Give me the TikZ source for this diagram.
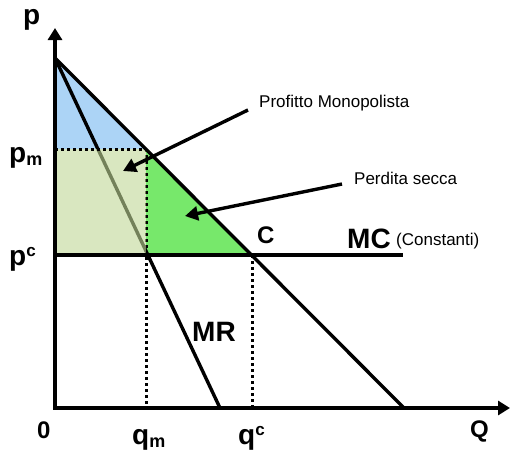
\documentclass[tikz,border=0pt]{standalone}
\usepackage{fontspec}
\setmainfont{Liberation Sans}
\usetikzlibrary{arrows.meta}
\definecolor{profitblue}{RGB}{172,212,246}
\definecolor{rectgreen}{RGB}{192,215,150}
\definecolor{losegreen}{RGB}{119,232,107}
\newcommand{\subtxt}[1]{\raisebox{-3pt}{\fontsize{18}{18}\selectfont #1}}
\newcommand{\suptxt}[1]{\raisebox{9pt}{\fontsize{17}{17}\selectfont #1}}
\tikzset{
  axis/.style={line width=3.5pt,line join=miter,{Triangle[length=12pt,width=14pt]}-{Triangle[length=12pt,width=14pt]}},
  curve/.style={line width=3.4pt},
  guide/.style={line width=3pt,dash pattern=on 3pt off 3pt},
  pointer/.style={line width=3.4pt,-{Triangle[length=13pt,width=14pt]}},
  biglbl/.style={anchor=base west,inner sep=0pt,font=\bfseries\fontsize{28}{28}\selectfont},
  midlbl/.style={anchor=base west,inner sep=0pt,font=\bfseries\fontsize{24}{24}\selectfont},
  note/.style={anchor=base west,inner sep=0pt,font=\fontsize{17}{17}\selectfont}
}

\begin{document}
\begin{tikzpicture}[x=1pt,y=-1pt]
\useasboundingbox (0,0) rectangle (512,451);
% points of the graph
\coordinate (O) at (55,408);
\coordinate (ytop) at (55,28);
\coordinate (xend) at (510,408);
\coordinate (A) at (55,58);
\coordinate (M) at (146,149);
\coordinate (pmax) at (55,149);
\coordinate (qmpc) at (146,255);
\coordinate (pcax) at (55,255);
\coordinate (C) at (252,255);
\coordinate (qmax) at (146,408);
\coordinate (qcax) at (252,408);
\coordinate (dend) at (404,408);
\coordinate (mrend) at (220,408);
\coordinate (mcend) at (403,255);

% areas
\fill[profitblue] (A) -- (M) -- (pmax) -- cycle;
\fill[losegreen] (M) -- (C) -- (qmpc) -- cycle;
\draw[curve] (A) -- (mrend);
\draw[guide] (M) -- (qmax);
\fill[rectgreen,fill opacity=0.6] (pmax) rectangle (qmpc);
\draw[guide] (pmax) -- (M);
\draw[guide] (C) -- (qcax);

% curves
\draw[curve] (A) -- (dend);
\draw[curve] (pcax) -- (mcend);
\draw[axis] (ytop) -- (O) -- (xend);

% labels
\node[biglbl] (plab) at (23,24) {p};
\node[biglbl] (pmlab) at (9,162) {p\subtxt{m}};
\node[biglbl] (pclab) at (9,265) {p\suptxt{c}};
\node[midlbl] (zero) at (37,438) {0};
\node[biglbl] (qmlab) at (132,444) {q\subtxt{m}};
\node[biglbl] (qclab) at (238,444) {q\suptxt{c}};
\node[midlbl] (Qlab) at (470,437) {Q};
\node[biglbl] (mrlab) at (192,341) {MR};
\node[midlbl] (clab) at (257,243) {C};
\node[biglbl] (mclab) at (347,248) {MC};
\node[note] (mcnote) at (396,245) {(Constanti)};
\node[note] (profit) at (259,107) {Profitto Monopolista};
\node[note] (loss) at (354,184) {Perdita secca};

% pointers
\coordinate (profittail) at (248,110);
\coordinate (profittip) at (123,171);
\coordinate (losstail) at (342,184);
\coordinate (losstip) at (185,216);
\draw[pointer] (profittail) -- (profittip);
\draw[pointer] (losstail) -- (losstip);
\end{tikzpicture}
\end{document}
